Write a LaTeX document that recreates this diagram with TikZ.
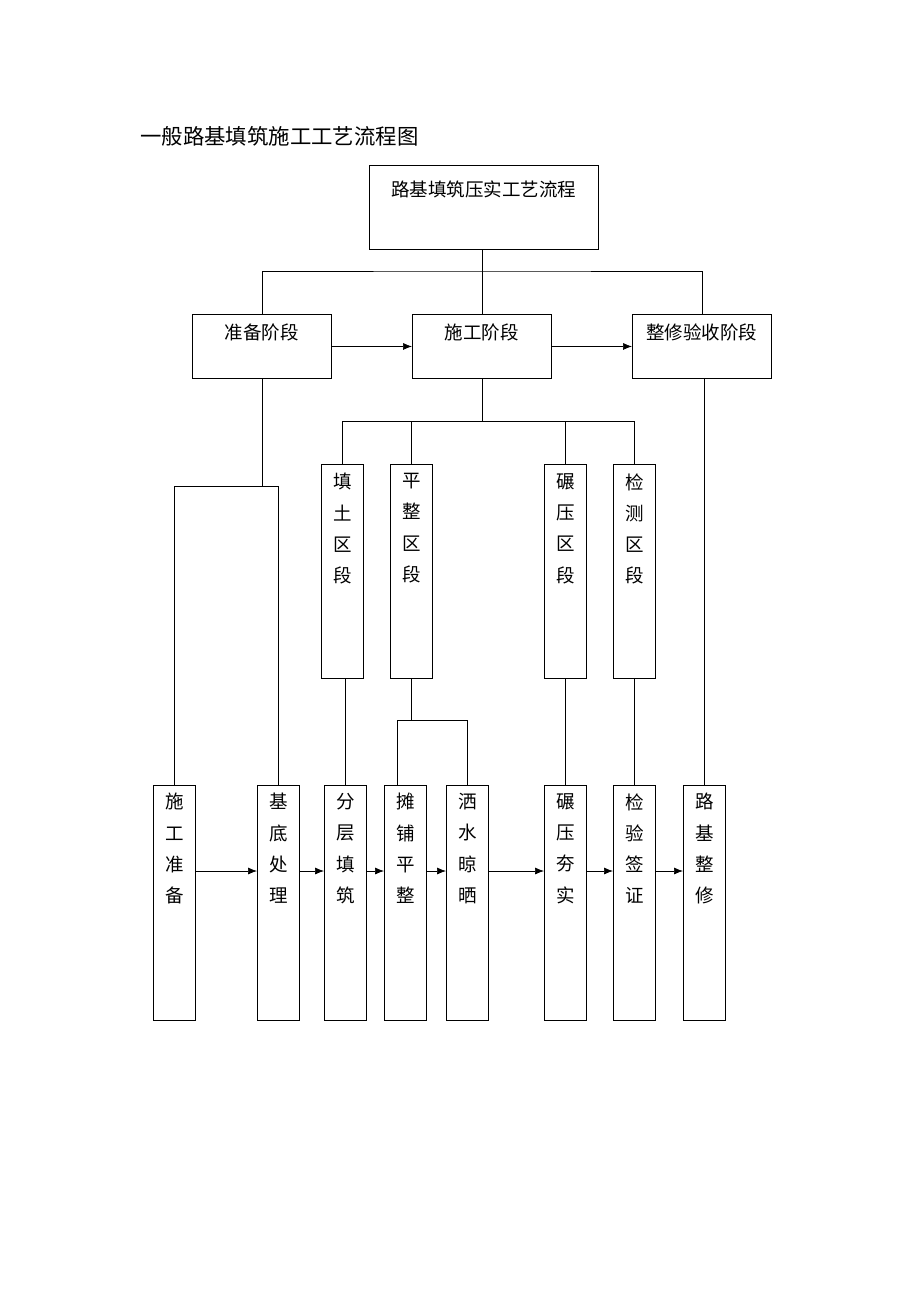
\documentclass[tikz,border=0pt]{standalone}
\usepackage{fontspec}
\newfontfamily\cjk{Noto Sans CJK SC}
\usetikzlibrary{arrows.meta,positioning}

\begin{document}
\begin{tikzpicture}[x=1pt,y=-1pt,>={Latex[length=9pt,width=7pt]},line width=0.7pt,
                    toptext/.style={anchor=north, inner sep=0pt, align=center,
                                    font=\cjk\fontsize{18.5}{31.3}\selectfont},
                    box/.style={draw, line width=0.9pt, inner sep=0pt, anchor=north west},
                    mainbox/.style={box, minimum width=229pt, minimum height=84pt,
                                    label={[toptext, yshift=-15pt]north:#1}},
                    stagebox/.style={box, minimum width=139pt, minimum height=64pt,
                                     label={[toptext, yshift=-9pt]north:#1}},
                    zonebox/.style={box, minimum width=42pt, minimum height=214pt,
                                    label={[toptext, yshift=-9pt]north:#1}},
                    workbox/.style={box, minimum width=42pt, minimum height=235pt,
                                    label={[toptext, yshift=-8pt]north:#1}}]
  \useasboundingbox (0,0) rectangle (920,1302);

  % Nodes
  \node[anchor=west, inner sep=0pt, font=\cjk\fontsize{21.4}{25}\selectfont] (title) at (140,136)
       {一般路基填筑施工工艺流程图};
  \node[mainbox={路基填筑压实工艺流程}] (main) at (369,165) {};
  \node[stagebox={准备阶段}] (prep) at (192,314) {};
  \node[stagebox={施工阶段}] (build) at (412,314) {};
  \node[stagebox={整修验收阶段}] (finish) at (632,314) {};

  \node[zonebox={填\\土\\区\\段}] (filling) at (321,464) {};
  \node[zonebox={平\\整\\区\\段}] (leveling) at (390,464) {};
  \node[zonebox={碾\\压\\区\\段}] (rolling) at (544,464) {};
  \node[zonebox={检\\测\\区\\段}] (testing) at (613,464) {};

  \node[workbox={施\\工\\准\\备}] (prepwork) at (153,785) {};
  \node[workbox={基\\底\\处\\理}] (base) at (257,785) {};
  \node[workbox={分\\层\\填\\筑}] (layer) at (324,785) {};
  \node[workbox={摊\\铺\\平\\整}] (spread) at (384,785) {};
  \node[workbox={洒\\水\\晾\\晒}] (water) at (446,785) {};
  \node[workbox={碾\\压\\夯\\实}] (compact) at (544,785) {};
  \node[workbox={检\\验\\签\\证}] (check) at (613,785) {};
  \node[workbox={路\\基\\整\\修}] (repair) at (683,785) {};

  \coordinate (bus) at (0,271);
  \coordinate (prepjoin) at (0,486);
  \coordinate (zonebus) at (0,421);
  \coordinate (leveljoin) at (0,720);
  \coordinate (flow) at (0,871);

  % Edges
  \draw (main.south -| build.north) -- (build.north);
  \draw (prep.north) |- (build.north |- bus) -| (finish.north);
  \draw[->] (prep.east) -- (build.west);
  \draw[->] (build.east) -- (finish.west);

  \draw (prep.south) -- (prep.south |- prepjoin);
  \draw (prepwork.north) |- (base.north |- prepjoin) -- (base.north);

  \draw (build.south) -- (build.south |- zonebus);
  \draw (filling.north) |- (testing.north |- zonebus) -- (testing.north);
  \draw (leveling.north) -- (leveling.north |- zonebus);
  \draw (rolling.north) -- (rolling.north |- zonebus);

  \draw (layer.north) -- (layer.north |- filling.south);
  \draw (leveling.south) -- (leveling.south |- leveljoin);
  \draw ([xshift=-8pt]spread.north) |- (water.north |- leveljoin) -- (water.north);
  \draw (compact.north) -- (compact.north |- rolling.south);
  \draw (check.north) -- (check.north |- testing.south);
  \draw (repair.north) -- (repair.north |- finish.south);

  \draw[->] (prepwork.east |- flow) -- (base.west |- flow);
  \draw[->] (base.east |- flow) -- (layer.west |- flow);
  \draw[->] (layer.east |- flow) -- (spread.west |- flow);
  \draw[->] (spread.east |- flow) -- (water.west |- flow);
  \draw[->] (water.east |- flow) -- (compact.west |- flow);
  \draw[->] (compact.east |- flow) -- (check.west |- flow);
  \draw[->] (check.east |- flow) -- (repair.west |- flow);
\end{tikzpicture}
\end{document}
